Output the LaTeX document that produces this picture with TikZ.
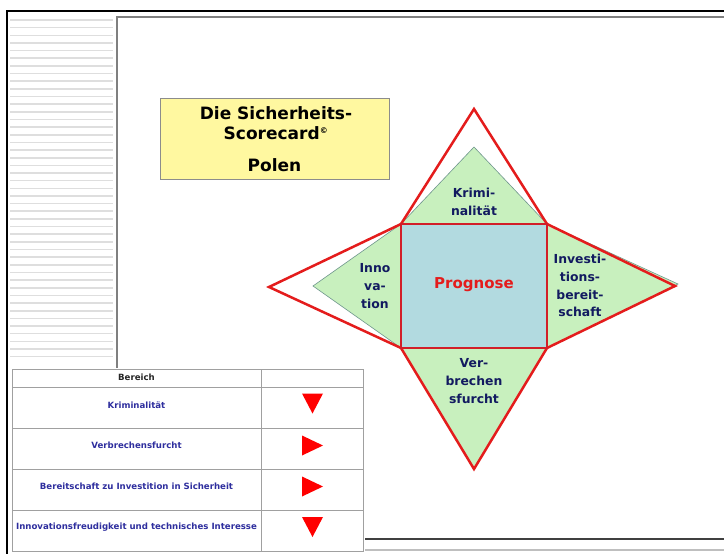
\documentclass[tikz,border=0pt]{standalone}
\usepackage{fontspec}
\setmainfont{DejaVu Sans}
\definecolor{ttlyellow}{RGB}{255,248,160}
\definecolor{sqblue}{RGB}{178,218,224}
\definecolor{netgreen}{RGB}{200,240,190}
\definecolor{netred}{RGB}{228,28,28}
\definecolor{sqred}{RGB}{210,30,40}
\definecolor{navy}{RGB}{18,26,96}
\definecolor{tblue}{RGB}{46,46,158}
\definecolor{stripgrey}{RGB}{222,222,222}
\definecolor{tgrid}{RGB}{160,160,160}
\tikzset{
  stripline/.style={stripgrey, line width=1.6pt},
  greentri/.style={fill=netgreen, draw={rgb,255:red,110;green,150;blue,140}, line width=0.6pt},
  redtri/.style={draw=netred, line width=2.5pt, line join=miter},
  netlabel/.style={font=\bfseries\fontsize{12.4}{17.8}\selectfont, text=navy, align=center, inner sep=0pt},
  ttl/.style={font=\bfseries\fontsize{17}{20}\selectfont, text=black, inner sep=0pt},
  tbltext/.style={font=\bfseries\fontsize{8.6}{9}\selectfont, text=tblue, inner sep=0pt},
  tblgrid/.style={draw=tgrid, line width=0.8pt},
  tri/.style={fill=red},
  downtri/.pic={\fill[tri] (-10.5,-10) -- (10.5,-10) -- (0,10) -- cycle;},
  righttri/.pic={\fill[tri] (-10.5,-10) -- (-10.5,10) -- (10.5,0) -- cycle;}
}
\begin{document}
\begin{tikzpicture}[x=1pt,y=-1pt]
\useasboundingbox (0,0) rectangle (724,554);
\fill[white] (0,0) rectangle (724,554);
% left striped strip
\foreach \i in {0,...,44} \draw[stripline] (10,{20+\i*7.65}) -- (113,{20+\i*7.65});
% frames
\draw[black, line width=1.4pt] (7,554) -- (7,11) -- (724,11);
\draw[gray, line width=1.2pt] (117,368) -- (117,17) -- (724,17);
\draw[black!75, line width=1.4pt] (365,539) -- (724,539);
\draw[black!25, line width=1.2pt] (365,550) -- (724,550);
% title box
\node[draw=black!45, line width=0.8pt, fill=ttlyellow, minimum width=229pt, minimum height=81pt, inner sep=0pt] (titlebox) at (274.5,138.5) {};
\node[ttl] (title1) at (276,113) {Die Sicherheits-};
\node[ttl] (title2) at (276,133) {Scorecard\textsuperscript{\fontsize{8}{8}\selectfont ©}};
\node[ttl] (title3) at (274.5,165) {Polen};
% net coordinates
\coordinate (tl) at (401,224);
\coordinate (tr) at (547,224);
\coordinate (br) at (547,348);
\coordinate (bl) at (401,348);
\coordinate (rtop) at (474,109);
\coordinate (rleft) at (269,287);
\coordinate (rright) at (675,286);
\coordinate (rbot) at (474,469);
\coordinate (gtop) at (474,147);
\coordinate (gleft) at (313,286);
\coordinate (gright) at (678,284);
% green triangles
\filldraw[greentri] (tl) -- (gtop) -- (tr) -- cycle;
\filldraw[greentri] (tl) -- (gleft) -- (bl) -- cycle;
\filldraw[greentri] (tr) -- (gright) -- (br) -- cycle;
\filldraw[greentri] (bl) -- (rbot) -- (br) -- cycle;
% square
\fill[sqblue] (tl) rectangle (br);
% red triangles
\draw[redtri] (tl) -- (rtop) -- (tr);
\draw[redtri] (tl) -- (rleft) -- (bl);
\draw[redtri] (tr) -- (rright) -- (br);
\draw[redtri] (bl) -- (rbot) -- (br);
\draw[draw=sqred, line width=2.8pt] (tl) rectangle (br);
% labels
\node[netlabel] (krim) at (474,202) {Krimi-\\nalität};
\node[netlabel] (inno) at (375,286) {Inno\\va-\\tion};
\node[netlabel] (inv) at (580,285.5) {Investi-\\tions-\\bereit-\\schaft};
\node[netlabel] (verb) at (474,381) {Ver-\\brechen\\sfurcht};
\node[font=\bfseries\fontsize{15}{16}\selectfont, text=netred, inner sep=0pt] (prog) at (474,285) {Prognose};
% table
\fill[white] (12,369) rectangle (363,551);
\draw[tblgrid] (12,369) rectangle (363,551);
\foreach \yy in {387,428,469,510} \draw[tblgrid] (12,\yy) -- (363,\yy);
\draw[tblgrid] (261,369) -- (261,551);
\node[font=\bfseries\fontsize{8.6}{9}\selectfont, text=black!85, inner sep=0pt] (hdr) at (136.5,377) {Bereich};
\node[tbltext] (row1) at (136.5,405) {Kriminalität};
\node[tbltext] (row2) at (136.5,445.5) {Verbrechensfurcht};
\node[tbltext] (row3) at (136.5,486.5) {Bereitschaft zu Investition in Sicherheit};
\node[tbltext] (row4) at (136.5,527) {Innovationsfreudigkeit und technisches Interesse};
\pic at (312.5,403.5) {downtri};
\pic at (312.5,445.5) {righttri};
\pic at (312.5,486.5) {righttri};
\pic at (312.5,527) {downtri};
\end{tikzpicture}
\end{document}
